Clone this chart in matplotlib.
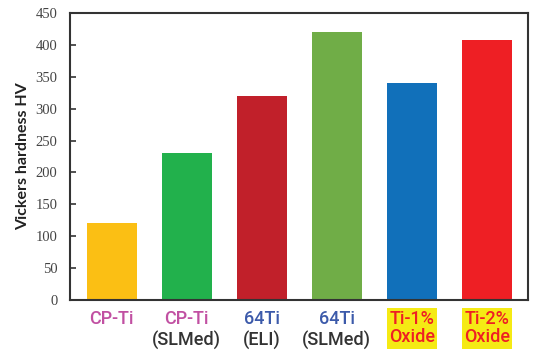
import matplotlib
matplotlib.use("Agg")
from matplotlib import pyplot as plt
import numpy as np

# Vickers hardness of each material
names = ["CP-Ti", "CP-Ti", "64Ti", "64Ti", "Ti-1%", "Ti-2%"]
subnames = ["", "(SLMed)", "(ELI)", "(SLMed)", "Oxide", "Oxide"]
hardness = [120, 230, 320, 420, 340, 407]
yticks = [0, 50, 100, 150, 200, 250, 300, 350, 400, 450]

bar_colors = ["#FBBF14", "#22B14C", "#C1202A", "#70AD47", "#1170BA", "#EE1F24"]
name_colors = ["#C150A2", "#C150A2", "#3C5AAA", "#3C5AAA", "#EE1F24", "#EE1F24"]

fig = plt.figure(figsize=(5.36, 3.51), dpi=100)
ax = fig.add_axes([70 / 536, 1 - 300 / 351, 458 / 536, 287 / 351])

x = np.arange(len(hardness))
ax.bar(x, hardness, width=0.667, color=bar_colors)
ax.set_xlim(-0.556, 5.551)
ax.set_ylim(0, 450)
ax.set_yticks(yticks)
ax.set_yticklabels([str(t) for t in yticks], family="Liberation Serif",
                   fontsize=10.5, color="#444444")
ax.tick_params(axis="y", direction="in", length=4, width=1.2, color="#333333", pad=9)
ax.set_xticks([])
for s in ax.spines.values():
    s.set_color("#333333")
    s.set_linewidth(1.5)

ax.set_ylabel("Vickers hardness HV", fontsize=11.5, fontweight="bold",
              family="Lato", color="#222222", labelpad=4)

# category labels below the axis
lab = dict(ha="center", va="top", fontsize=13, family="Roboto",
           fontweight="medium", textcoords="offset points", annotation_clip=False)
for i in range(len(names)):
    if subnames[i] == "Oxide":
        ax.annotate(names[i] + "\n" + subnames[i], (x[i], 0), xytext=(0, -7),
                    color=name_colors[i], linespacing=1.05,
                    bbox=dict(boxstyle="square,pad=0.12", fc="#F5EA14", ec="none"),
                    **lab)
    else:
        ax.annotate(names[i], (x[i], 0), xytext=(0, -7), color=name_colors[i], **lab)
        if subnames[i]:
            ax.annotate(subnames[i], (x[i], 0), xytext=(0, -22.5),
                        color="#333333", **lab)

fig.savefig("out.png", dpi=100)
